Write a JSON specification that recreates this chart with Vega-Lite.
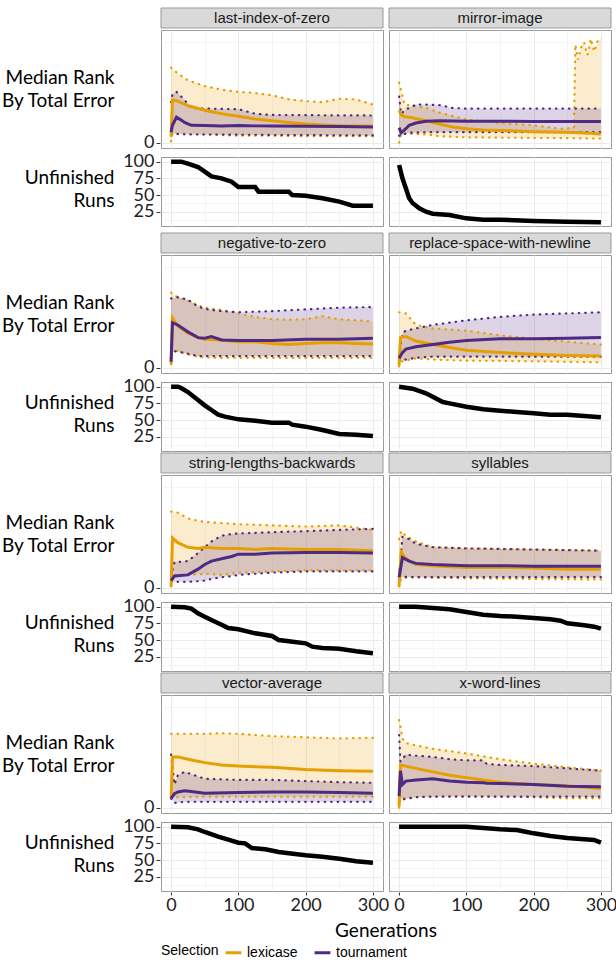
{
  "$schema": "https://vega.github.io/schema/vega-lite/v6.json",
  "padding": {"left": 0, "top": 7, "right": 0, "bottom": 0},
  "background": "white",
  "datasets": {
    "r": [
      {"p":"last-index-of-zero","s":"lexicase","g":0,"m":50,"lo":10,"hi":650},
      {"p":"last-index-of-zero","s":"lexicase","g":2,"m":370,"lo":80,"hi":640},
      {"p":"last-index-of-zero","s":"lexicase","g":10,"m":360,"lo":80,"hi":600},
      {"p":"last-index-of-zero","s":"lexicase","g":25,"m":320,"lo":75,"hi":540},
      {"p":"last-index-of-zero","s":"lexicase","g":50,"m":280,"lo":70,"hi":490},
      {"p":"last-index-of-zero","s":"lexicase","g":75,"m":250,"lo":65,"hi":460},
      {"p":"last-index-of-zero","s":"lexicase","g":100,"m":228,"lo":60,"hi":440},
      {"p":"last-index-of-zero","s":"lexicase","g":125,"m":205,"lo":60,"hi":430},
      {"p":"last-index-of-zero","s":"lexicase","g":150,"m":190,"lo":58,"hi":410},
      {"p":"last-index-of-zero","s":"lexicase","g":175,"m":175,"lo":57,"hi":375},
      {"p":"last-index-of-zero","s":"lexicase","g":200,"m":162,"lo":55,"hi":360},
      {"p":"last-index-of-zero","s":"lexicase","g":225,"m":152,"lo":55,"hi":350},
      {"p":"last-index-of-zero","s":"lexicase","g":250,"m":147,"lo":55,"hi":380},
      {"p":"last-index-of-zero","s":"lexicase","g":275,"m":145,"lo":55,"hi":375},
      {"p":"last-index-of-zero","s":"lexicase","g":300,"m":144,"lo":55,"hi":330},
      {"p":"last-index-of-zero","s":"tournament","g":0,"m":90,"lo":70,"hi":350},
      {"p":"last-index-of-zero","s":"tournament","g":2,"m":150,"lo":75,"hi":420},
      {"p":"last-index-of-zero","s":"tournament","g":8,"m":220,"lo":75,"hi":440},
      {"p":"last-index-of-zero","s":"tournament","g":15,"m":195,"lo":72,"hi":400},
      {"p":"last-index-of-zero","s":"tournament","g":20,"m":175,"lo":72,"hi":370},
      {"p":"last-index-of-zero","s":"tournament","g":30,"m":150,"lo":70,"hi":300},
      {"p":"last-index-of-zero","s":"tournament","g":50,"m":148,"lo":70,"hi":295},
      {"p":"last-index-of-zero","s":"tournament","g":75,"m":145,"lo":70,"hi":292},
      {"p":"last-index-of-zero","s":"tournament","g":100,"m":148,"lo":68,"hi":290},
      {"p":"last-index-of-zero","s":"tournament","g":125,"m":145,"lo":68,"hi":250},
      {"p":"last-index-of-zero","s":"tournament","g":150,"m":145,"lo":66,"hi":240},
      {"p":"last-index-of-zero","s":"tournament","g":200,"m":142,"lo":65,"hi":238},
      {"p":"last-index-of-zero","s":"tournament","g":250,"m":140,"lo":63,"hi":236},
      {"p":"last-index-of-zero","s":"tournament","g":300,"m":135,"lo":62,"hi":235},

      {"p":"mirror-image","s":"lexicase","g":0,"m":280,"lo":0,"hi":520},
      {"p":"mirror-image","s":"lexicase","g":3,"m":240,"lo":80,"hi":450},
      {"p":"mirror-image","s":"lexicase","g":8,"m":225,"lo":80,"hi":330},
      {"p":"mirror-image","s":"lexicase","g":20,"m":215,"lo":75,"hi":320},
      {"p":"mirror-image","s":"lexicase","g":40,"m":190,"lo":70,"hi":300},
      {"p":"mirror-image","s":"lexicase","g":60,"m":160,"lo":55,"hi":260},
      {"p":"mirror-image","s":"lexicase","g":80,"m":135,"lo":50,"hi":230},
      {"p":"mirror-image","s":"lexicase","g":100,"m":120,"lo":45,"hi":200},
      {"p":"mirror-image","s":"lexicase","g":125,"m":110,"lo":45,"hi":185},
      {"p":"mirror-image","s":"lexicase","g":150,"m":105,"lo":42,"hi":170},
      {"p":"mirror-image","s":"lexicase","g":175,"m":100,"lo":42,"hi":160},
      {"p":"mirror-image","s":"lexicase","g":200,"m":95,"lo":40,"hi":150},
      {"p":"mirror-image","s":"lexicase","g":225,"m":92,"lo":40,"hi":130},
      {"p":"mirror-image","s":"lexicase","g":245,"m":90,"lo":38,"hi":120},
      {"p":"mirror-image","s":"lexicase","g":260,"m":88,"lo":38,"hi":130},
      {"p":"mirror-image","s":"lexicase","g":262,"m":88,"lo":38,"hi":850},
      {"p":"mirror-image","s":"lexicase","g":266,"m":86,"lo":37,"hi":720},
      {"p":"mirror-image","s":"lexicase","g":270,"m":85,"lo":37,"hi":820},
      {"p":"mirror-image","s":"lexicase","g":275,"m":84,"lo":36,"hi":870},
      {"p":"mirror-image","s":"lexicase","g":280,"m":82,"lo":36,"hi":760},
      {"p":"mirror-image","s":"lexicase","g":285,"m":80,"lo":36,"hi":900},
      {"p":"mirror-image","s":"lexicase","g":290,"m":78,"lo":35,"hi":790},
      {"p":"mirror-image","s":"lexicase","g":295,"m":77,"lo":35,"hi":880},
      {"p":"mirror-image","s":"lexicase","g":300,"m":75,"lo":35,"hi":910},
      {"p":"mirror-image","s":"tournament","g":0,"m":130,"lo":60,"hi":400},
      {"p":"mirror-image","s":"tournament","g":3,"m":85,"lo":55,"hi":250},
      {"p":"mirror-image","s":"tournament","g":10,"m":120,"lo":80,"hi":290},
      {"p":"mirror-image","s":"tournament","g":15,"m":150,"lo":85,"hi":300},
      {"p":"mirror-image","s":"tournament","g":25,"m":170,"lo":88,"hi":330},
      {"p":"mirror-image","s":"tournament","g":40,"m":185,"lo":90,"hi":330},
      {"p":"mirror-image","s":"tournament","g":60,"m":190,"lo":90,"hi":325},
      {"p":"mirror-image","s":"tournament","g":80,"m":188,"lo":90,"hi":300},
      {"p":"mirror-image","s":"tournament","g":100,"m":186,"lo":90,"hi":295},
      {"p":"mirror-image","s":"tournament","g":150,"m":185,"lo":90,"hi":295},
      {"p":"mirror-image","s":"tournament","g":200,"m":183,"lo":90,"hi":295},
      {"p":"mirror-image","s":"tournament","g":250,"m":182,"lo":90,"hi":295},
      {"p":"mirror-image","s":"tournament","g":300,"m":182,"lo":90,"hi":295},

      {"p":"negative-to-zero","s":"lexicase","g":0,"m":30,"lo":30,"hi":650},
      {"p":"negative-to-zero","s":"lexicase","g":2,"m":430,"lo":160,"hi":640},
      {"p":"negative-to-zero","s":"lexicase","g":10,"m":360,"lo":140,"hi":610},
      {"p":"negative-to-zero","s":"lexicase","g":25,"m":300,"lo":115,"hi":580},
      {"p":"negative-to-zero","s":"lexicase","g":40,"m":260,"lo":95,"hi":540},
      {"p":"negative-to-zero","s":"lexicase","g":50,"m":245,"lo":88,"hi":520},
      {"p":"negative-to-zero","s":"lexicase","g":75,"m":240,"lo":85,"hi":500},
      {"p":"negative-to-zero","s":"lexicase","g":100,"m":225,"lo":85,"hi":470},
      {"p":"negative-to-zero","s":"lexicase","g":125,"m":225,"lo":85,"hi":440},
      {"p":"negative-to-zero","s":"lexicase","g":150,"m":210,"lo":85,"hi":420},
      {"p":"negative-to-zero","s":"lexicase","g":175,"m":200,"lo":85,"hi":415},
      {"p":"negative-to-zero","s":"lexicase","g":200,"m":210,"lo":85,"hi":420},
      {"p":"negative-to-zero","s":"lexicase","g":225,"m":215,"lo":85,"hi":445},
      {"p":"negative-to-zero","s":"lexicase","g":250,"m":215,"lo":85,"hi":420},
      {"p":"negative-to-zero","s":"lexicase","g":275,"m":210,"lo":85,"hi":410},
      {"p":"negative-to-zero","s":"lexicase","g":300,"m":205,"lo":85,"hi":400},
      {"p":"negative-to-zero","s":"tournament","g":0,"m":50,"lo":50,"hi":600},
      {"p":"negative-to-zero","s":"tournament","g":2,"m":390,"lo":140,"hi":600},
      {"p":"negative-to-zero","s":"tournament","g":10,"m":370,"lo":140,"hi":610},
      {"p":"negative-to-zero","s":"tournament","g":25,"m":310,"lo":120,"hi":590},
      {"p":"negative-to-zero","s":"tournament","g":40,"m":260,"lo":100,"hi":530},
      {"p":"negative-to-zero","s":"tournament","g":50,"m":255,"lo":100,"hi":510},
      {"p":"negative-to-zero","s":"tournament","g":60,"m":270,"lo":100,"hi":500},
      {"p":"negative-to-zero","s":"tournament","g":75,"m":240,"lo":100,"hi":490},
      {"p":"negative-to-zero","s":"tournament","g":100,"m":235,"lo":100,"hi":480},
      {"p":"negative-to-zero","s":"tournament","g":150,"m":235,"lo":100,"hi":490},
      {"p":"negative-to-zero","s":"tournament","g":200,"m":245,"lo":100,"hi":505},
      {"p":"negative-to-zero","s":"tournament","g":250,"m":245,"lo":100,"hi":520},
      {"p":"negative-to-zero","s":"tournament","g":300,"m":255,"lo":100,"hi":525},

      {"p":"replace-space-with-newline","s":"lexicase","g":0,"m":20,"lo":10,"hi":480},
      {"p":"replace-space-with-newline","s":"lexicase","g":2,"m":260,"lo":50,"hi":480},
      {"p":"replace-space-with-newline","s":"lexicase","g":10,"m":270,"lo":60,"hi":470},
      {"p":"replace-space-with-newline","s":"lexicase","g":25,"m":230,"lo":80,"hi":370},
      {"p":"replace-space-with-newline","s":"lexicase","g":50,"m":200,"lo":70,"hi":340},
      {"p":"replace-space-with-newline","s":"lexicase","g":75,"m":175,"lo":65,"hi":330},
      {"p":"replace-space-with-newline","s":"lexicase","g":100,"m":150,"lo":60,"hi":320},
      {"p":"replace-space-with-newline","s":"lexicase","g":150,"m":130,"lo":58,"hi":280},
      {"p":"replace-space-with-newline","s":"lexicase","g":200,"m":115,"lo":55,"hi":250},
      {"p":"replace-space-with-newline","s":"lexicase","g":250,"m":105,"lo":50,"hi":225},
      {"p":"replace-space-with-newline","s":"lexicase","g":300,"m":100,"lo":45,"hi":200},
      {"p":"replace-space-with-newline","s":"tournament","g":0,"m":80,"lo":60,"hi":100},
      {"p":"replace-space-with-newline","s":"tournament","g":5,"m":130,"lo":60,"hi":300},
      {"p":"replace-space-with-newline","s":"tournament","g":10,"m":160,"lo":70,"hi":320},
      {"p":"replace-space-with-newline","s":"tournament","g":25,"m":180,"lo":85,"hi":340},
      {"p":"replace-space-with-newline","s":"tournament","g":50,"m":200,"lo":95,"hi":370},
      {"p":"replace-space-with-newline","s":"tournament","g":75,"m":220,"lo":95,"hi":390},
      {"p":"replace-space-with-newline","s":"tournament","g":100,"m":235,"lo":95,"hi":410},
      {"p":"replace-space-with-newline","s":"tournament","g":150,"m":250,"lo":95,"hi":440},
      {"p":"replace-space-with-newline","s":"tournament","g":200,"m":250,"lo":95,"hi":460},
      {"p":"replace-space-with-newline","s":"tournament","g":250,"m":255,"lo":95,"hi":470},
      {"p":"replace-space-with-newline","s":"tournament","g":300,"m":260,"lo":95,"hi":480},

      {"p":"string-lengths-backwards","s":"lexicase","g":0,"m":10,"lo":10,"hi":660},
      {"p":"string-lengths-backwards","s":"lexicase","g":2,"m":430,"lo":100,"hi":660},
      {"p":"string-lengths-backwards","s":"lexicase","g":10,"m":390,"lo":105,"hi":650},
      {"p":"string-lengths-backwards","s":"lexicase","g":25,"m":350,"lo":110,"hi":600},
      {"p":"string-lengths-backwards","s":"lexicase","g":40,"m":340,"lo":115,"hi":580},
      {"p":"string-lengths-backwards","s":"lexicase","g":50,"m":350,"lo":120,"hi":570},
      {"p":"string-lengths-backwards","s":"lexicase","g":75,"m":340,"lo":110,"hi":560},
      {"p":"string-lengths-backwards","s":"lexicase","g":100,"m":340,"lo":130,"hi":550},
      {"p":"string-lengths-backwards","s":"lexicase","g":125,"m":330,"lo":135,"hi":545},
      {"p":"string-lengths-backwards","s":"lexicase","g":150,"m":340,"lo":140,"hi":540},
      {"p":"string-lengths-backwards","s":"lexicase","g":200,"m":330,"lo":150,"hi":530},
      {"p":"string-lengths-backwards","s":"lexicase","g":250,"m":330,"lo":150,"hi":540},
      {"p":"string-lengths-backwards","s":"lexicase","g":300,"m":320,"lo":150,"hi":500},
      {"p":"string-lengths-backwards","s":"tournament","g":0,"m":60,"lo":50,"hi":100},
      {"p":"string-lengths-backwards","s":"tournament","g":5,"m":100,"lo":50,"hi":220},
      {"p":"string-lengths-backwards","s":"tournament","g":25,"m":110,"lo":50,"hi":230},
      {"p":"string-lengths-backwards","s":"tournament","g":40,"m":160,"lo":55,"hi":300},
      {"p":"string-lengths-backwards","s":"tournament","g":50,"m":200,"lo":60,"hi":350},
      {"p":"string-lengths-backwards","s":"tournament","g":60,"m":230,"lo":75,"hi":400},
      {"p":"string-lengths-backwards","s":"tournament","g":75,"m":250,"lo":90,"hi":450},
      {"p":"string-lengths-backwards","s":"tournament","g":90,"m":270,"lo":100,"hi":465},
      {"p":"string-lengths-backwards","s":"tournament","g":100,"m":290,"lo":110,"hi":470},
      {"p":"string-lengths-backwards","s":"tournament","g":125,"m":290,"lo":120,"hi":475},
      {"p":"string-lengths-backwards","s":"tournament","g":150,"m":300,"lo":130,"hi":480},
      {"p":"string-lengths-backwards","s":"tournament","g":200,"m":305,"lo":140,"hi":490},
      {"p":"string-lengths-backwards","s":"tournament","g":250,"m":305,"lo":140,"hi":500},
      {"p":"string-lengths-backwards","s":"tournament","g":300,"m":300,"lo":140,"hi":510},

      {"p":"syllables","s":"lexicase","g":0,"m":10,"lo":10,"hi":420},
      {"p":"syllables","s":"lexicase","g":3,"m":310,"lo":80,"hi":490},
      {"p":"syllables","s":"lexicase","g":10,"m":250,"lo":85,"hi":450},
      {"p":"syllables","s":"lexicase","g":25,"m":200,"lo":90,"hi":400},
      {"p":"syllables","s":"lexicase","g":50,"m":190,"lo":85,"hi":350},
      {"p":"syllables","s":"lexicase","g":100,"m":175,"lo":80,"hi":340},
      {"p":"syllables","s":"lexicase","g":150,"m":175,"lo":78,"hi":335},
      {"p":"syllables","s":"lexicase","g":200,"m":170,"lo":75,"hi":330},
      {"p":"syllables","s":"lexicase","g":250,"m":160,"lo":72,"hi":325},
      {"p":"syllables","s":"lexicase","g":300,"m":160,"lo":70,"hi":320},
      {"p":"syllables","s":"tournament","g":0,"m":90,"lo":90,"hi":100},
      {"p":"syllables","s":"tournament","g":5,"m":260,"lo":95,"hi":440},
      {"p":"syllables","s":"tournament","g":15,"m":230,"lo":92,"hi":420},
      {"p":"syllables","s":"tournament","g":25,"m":210,"lo":90,"hi":380},
      {"p":"syllables","s":"tournament","g":50,"m":200,"lo":90,"hi":350},
      {"p":"syllables","s":"tournament","g":100,"m":190,"lo":90,"hi":340},
      {"p":"syllables","s":"tournament","g":150,"m":190,"lo":90,"hi":335},
      {"p":"syllables","s":"tournament","g":200,"m":185,"lo":90,"hi":330},
      {"p":"syllables","s":"tournament","g":250,"m":185,"lo":90,"hi":325},
      {"p":"syllables","s":"tournament","g":300,"m":185,"lo":90,"hi":320},

      {"p":"vector-average","s":"lexicase","g":0,"m":80,"lo":80,"hi":640},
      {"p":"vector-average","s":"lexicase","g":2,"m":440,"lo":90,"hi":640},
      {"p":"vector-average","s":"lexicase","g":10,"m":440,"lo":90,"hi":640},
      {"p":"vector-average","s":"lexicase","g":25,"m":420,"lo":92,"hi":640},
      {"p":"vector-average","s":"lexicase","g":50,"m":390,"lo":95,"hi":640},
      {"p":"vector-average","s":"lexicase","g":75,"m":370,"lo":95,"hi":645},
      {"p":"vector-average","s":"lexicase","g":100,"m":360,"lo":95,"hi":640},
      {"p":"vector-average","s":"lexicase","g":150,"m":350,"lo":95,"hi":620},
      {"p":"vector-average","s":"lexicase","g":200,"m":330,"lo":95,"hi":610},
      {"p":"vector-average","s":"lexicase","g":250,"m":320,"lo":95,"hi":600},
      {"p":"vector-average","s":"lexicase","g":300,"m":315,"lo":95,"hi":605},
      {"p":"vector-average","s":"tournament","g":0,"m":80,"lo":80,"hi":460},
      {"p":"vector-average","s":"tournament","g":5,"m":120,"lo":40,"hi":200},
      {"p":"vector-average","s":"tournament","g":10,"m":135,"lo":45,"hi":280},
      {"p":"vector-average","s":"tournament","g":20,"m":145,"lo":50,"hi":310},
      {"p":"vector-average","s":"tournament","g":30,"m":140,"lo":50,"hi":290},
      {"p":"vector-average","s":"tournament","g":50,"m":125,"lo":50,"hi":250},
      {"p":"vector-average","s":"tournament","g":100,"m":130,"lo":50,"hi":240},
      {"p":"vector-average","s":"tournament","g":150,"m":135,"lo":50,"hi":240},
      {"p":"vector-average","s":"tournament","g":200,"m":135,"lo":50,"hi":230},
      {"p":"vector-average","s":"tournament","g":250,"m":130,"lo":50,"hi":220},
      {"p":"vector-average","s":"tournament","g":300,"m":125,"lo":50,"hi":215},

      {"p":"x-word-lines","s":"lexicase","g":0,"m":10,"lo":0,"hi":760},
      {"p":"x-word-lines","s":"lexicase","g":2,"m":370,"lo":80,"hi":700},
      {"p":"x-word-lines","s":"lexicase","g":5,"m":365,"lo":80,"hi":600},
      {"p":"x-word-lines","s":"lexicase","g":10,"m":360,"lo":85,"hi":560},
      {"p":"x-word-lines","s":"lexicase","g":25,"m":340,"lo":90,"hi":540},
      {"p":"x-word-lines","s":"lexicase","g":50,"m":310,"lo":95,"hi":510},
      {"p":"x-word-lines","s":"lexicase","g":75,"m":280,"lo":98,"hi":490},
      {"p":"x-word-lines","s":"lexicase","g":100,"m":260,"lo":100,"hi":470},
      {"p":"x-word-lines","s":"lexicase","g":125,"m":240,"lo":98,"hi":445},
      {"p":"x-word-lines","s":"lexicase","g":150,"m":220,"lo":95,"hi":420},
      {"p":"x-word-lines","s":"lexicase","g":175,"m":210,"lo":92,"hi":400},
      {"p":"x-word-lines","s":"lexicase","g":200,"m":200,"lo":90,"hi":380},
      {"p":"x-word-lines","s":"lexicase","g":250,"m":190,"lo":80,"hi":350},
      {"p":"x-word-lines","s":"lexicase","g":300,"m":165,"lo":80,"hi":320},
      {"p":"x-word-lines","s":"tournament","g":0,"m":100,"lo":100,"hi":630},
      {"p":"x-word-lines","s":"tournament","g":2,"m":320,"lo":80,"hi":400},
      {"p":"x-word-lines","s":"tournament","g":5,"m":200,"lo":70,"hi":420},
      {"p":"x-word-lines","s":"tournament","g":10,"m":230,"lo":75,"hi":460},
      {"p":"x-word-lines","s":"tournament","g":25,"m":240,"lo":90,"hi":450},
      {"p":"x-word-lines","s":"tournament","g":50,"m":250,"lo":95,"hi":440},
      {"p":"x-word-lines","s":"tournament","g":75,"m":230,"lo":95,"hi":420},
      {"p":"x-word-lines","s":"tournament","g":100,"m":220,"lo":95,"hi":410},
      {"p":"x-word-lines","s":"tournament","g":125,"m":215,"lo":95,"hi":410},
      {"p":"x-word-lines","s":"tournament","g":130,"m":212,"lo":95,"hi":380},
      {"p":"x-word-lines","s":"tournament","g":150,"m":210,"lo":95,"hi":370},
      {"p":"x-word-lines","s":"tournament","g":200,"m":200,"lo":95,"hi":360},
      {"p":"x-word-lines","s":"tournament","g":250,"m":185,"lo":95,"hi":340},
      {"p":"x-word-lines","s":"tournament","g":300,"m":180,"lo":95,"hi":320}
    ],
    "u": [
      {"p":"last-index-of-zero","g":0,"n":100},{"p":"last-index-of-zero","g":15,"n":100},{"p":"last-index-of-zero","g":25,"n":97},{"p":"last-index-of-zero","g":40,"n":92},{"p":"last-index-of-zero","g":50,"n":85},{"p":"last-index-of-zero","g":60,"n":78},{"p":"last-index-of-zero","g":75,"n":75},{"p":"last-index-of-zero","g":90,"n":70},{"p":"last-index-of-zero","g":100,"n":62},{"p":"last-index-of-zero","g":125,"n":62},{"p":"last-index-of-zero","g":130,"n":55},{"p":"last-index-of-zero","g":175,"n":55},{"p":"last-index-of-zero","g":180,"n":50},{"p":"last-index-of-zero","g":200,"n":49},{"p":"last-index-of-zero","g":225,"n":45},{"p":"last-index-of-zero","g":250,"n":40},{"p":"last-index-of-zero","g":270,"n":34},{"p":"last-index-of-zero","g":300,"n":34},
      {"p":"mirror-image","g":0,"n":95},{"p":"mirror-image","g":5,"n":75},{"p":"mirror-image","g":10,"n":60},{"p":"mirror-image","g":15,"n":45},{"p":"mirror-image","g":20,"n":38},{"p":"mirror-image","g":30,"n":30},{"p":"mirror-image","g":40,"n":25},{"p":"mirror-image","g":50,"n":22},{"p":"mirror-image","g":75,"n":20},{"p":"mirror-image","g":100,"n":15},{"p":"mirror-image","g":125,"n":13},{"p":"mirror-image","g":150,"n":13},{"p":"mirror-image","g":200,"n":11},{"p":"mirror-image","g":250,"n":10},{"p":"mirror-image","g":300,"n":9},
      {"p":"negative-to-zero","g":0,"n":100},{"p":"negative-to-zero","g":10,"n":100},{"p":"negative-to-zero","g":15,"n":98},{"p":"negative-to-zero","g":25,"n":92},{"p":"negative-to-zero","g":40,"n":80},{"p":"negative-to-zero","g":50,"n":72},{"p":"negative-to-zero","g":60,"n":65},{"p":"negative-to-zero","g":70,"n":58},{"p":"negative-to-zero","g":80,"n":55},{"p":"negative-to-zero","g":100,"n":51},{"p":"negative-to-zero","g":125,"n":49},{"p":"negative-to-zero","g":150,"n":46},{"p":"negative-to-zero","g":175,"n":46},{"p":"negative-to-zero","g":180,"n":43},{"p":"negative-to-zero","g":200,"n":40},{"p":"negative-to-zero","g":225,"n":35},{"p":"negative-to-zero","g":250,"n":29},{"p":"negative-to-zero","g":275,"n":28},{"p":"negative-to-zero","g":300,"n":26},
      {"p":"replace-space-with-newline","g":0,"n":100},{"p":"replace-space-with-newline","g":20,"n":97},{"p":"replace-space-with-newline","g":40,"n":90},{"p":"replace-space-with-newline","g":50,"n":85},{"p":"replace-space-with-newline","g":65,"n":77},{"p":"replace-space-with-newline","g":75,"n":75},{"p":"replace-space-with-newline","g":100,"n":70},{"p":"replace-space-with-newline","g":125,"n":66},{"p":"replace-space-with-newline","g":150,"n":64},{"p":"replace-space-with-newline","g":175,"n":62},{"p":"replace-space-with-newline","g":200,"n":60},{"p":"replace-space-with-newline","g":225,"n":58},{"p":"replace-space-with-newline","g":250,"n":58},{"p":"replace-space-with-newline","g":275,"n":56},{"p":"replace-space-with-newline","g":300,"n":54},
      {"p":"string-lengths-backwards","g":0,"n":100},{"p":"string-lengths-backwards","g":20,"n":99},{"p":"string-lengths-backwards","g":30,"n":97},{"p":"string-lengths-backwards","g":40,"n":90},{"p":"string-lengths-backwards","g":50,"n":85},{"p":"string-lengths-backwards","g":60,"n":80},{"p":"string-lengths-backwards","g":75,"n":73},{"p":"string-lengths-backwards","g":85,"n":68},{"p":"string-lengths-backwards","g":100,"n":66},{"p":"string-lengths-backwards","g":125,"n":60},{"p":"string-lengths-backwards","g":150,"n":56},{"p":"string-lengths-backwards","g":160,"n":50},{"p":"string-lengths-backwards","g":175,"n":48},{"p":"string-lengths-backwards","g":200,"n":45},{"p":"string-lengths-backwards","g":210,"n":40},{"p":"string-lengths-backwards","g":225,"n":38},{"p":"string-lengths-backwards","g":250,"n":37},{"p":"string-lengths-backwards","g":275,"n":33},{"p":"string-lengths-backwards","g":300,"n":30},
      {"p":"syllables","g":0,"n":100},{"p":"syllables","g":25,"n":100},{"p":"syllables","g":50,"n":98},{"p":"syllables","g":75,"n":96},{"p":"syllables","g":100,"n":92},{"p":"syllables","g":125,"n":88},{"p":"syllables","g":150,"n":86},{"p":"syllables","g":175,"n":85},{"p":"syllables","g":200,"n":83},{"p":"syllables","g":225,"n":81},{"p":"syllables","g":240,"n":79},{"p":"syllables","g":250,"n":75},{"p":"syllables","g":275,"n":72},{"p":"syllables","g":290,"n":70},{"p":"syllables","g":300,"n":67},
      {"p":"vector-average","g":0,"n":100},{"p":"vector-average","g":25,"n":99},{"p":"vector-average","g":40,"n":96},{"p":"vector-average","g":50,"n":92},{"p":"vector-average","g":70,"n":85},{"p":"vector-average","g":90,"n":79},{"p":"vector-average","g":100,"n":76},{"p":"vector-average","g":110,"n":75},{"p":"vector-average","g":120,"n":68},{"p":"vector-average","g":140,"n":66},{"p":"vector-average","g":160,"n":62},{"p":"vector-average","g":175,"n":60},{"p":"vector-average","g":200,"n":57},{"p":"vector-average","g":225,"n":55},{"p":"vector-average","g":250,"n":52},{"p":"vector-average","g":275,"n":48},{"p":"vector-average","g":300,"n":46},
      {"p":"x-word-lines","g":0,"n":100},{"p":"x-word-lines","g":100,"n":100},{"p":"x-word-lines","g":125,"n":98},{"p":"x-word-lines","g":150,"n":96},{"p":"x-word-lines","g":175,"n":95},{"p":"x-word-lines","g":190,"n":92},{"p":"x-word-lines","g":200,"n":90},{"p":"x-word-lines","g":225,"n":86},{"p":"x-word-lines","g":250,"n":83},{"p":"x-word-lines","g":275,"n":81},{"p":"x-word-lines","g":290,"n":80},{"p":"x-word-lines","g":300,"n":76}
    ]
  },
  "resolve": {"scale": {"color": "shared"}, "legend": {"color": "shared"}},
  "spacing": 0,
  "vconcat": [
    {
      "spacing": 0,
      "resolve": {"scale": {"color": "shared"}, "legend": {"color": "shared"}},
      "vconcat": [
        {
          "data": {"name": "u"},
          "transform": [{"filter": {"field": "p", "oneOf": ["last-index-of-zero", "mirror-image"]}}, {"aggregate": [{"op": "count", "as": "c"}], "groupby": ["p"]}],
          "facet": {"column": {"field": "p", "title": null, "header": {"labels": false, "title": null}}},
          "spacing": 4,
          "spec": {"width": 222, "height": 20, "layer": [
            {"mark": {"type": "rect", "fill": "#d9d9d9", "stroke": "#999999"}, "encoding": {}},
            {"mark": {"type": "text", "fontSize": 15, "font": "Liberation Sans", "color": "#1a1a1a"}, "encoding": {"text": {"field": "p"}}}
          ]}
        },
        {
          "spacing": 0,
          "resolve": {"scale": {"color": "shared"}, "legend": {"color": "shared"}},
          "vconcat": [
            {
              "data": {"name": "r"},
              "transform": [{"filter": {"field": "p", "oneOf": ["last-index-of-zero", "mirror-image"]}}],
              "facet": {"column": {"field": "p", "title": null, "header": {"labels": false, "title": null}}},
              "spacing": 4,
              "spec": {
                "width": 222, "height": 118,
                "encoding": {
                  "x": {"field": "g", "type": "quantitative", "scale": {"domain": [-15, 315], "nice": false, "zero": false}, "axis": {"values": [0,50,100,150,200,250,300], "labels": false, "ticks": false, "domain": false, "title": null, "minExtent": 0, "maxExtent": 0, "offset": 0, "gridWidth": {"condition": {"test": "datum.value % 100 !== 0", "value": 0.5}, "value": 1}}},
                  "color": {"field": "s", "type": "nominal", "title": "Selection", "scale": {"domain": ["lexicase", "tournament"], "range": ["#E69F00", "#4E2A84"]}}
                },
                "layer": [
                  {"mark": {"type": "area", "fillOpacity": 0.2}, "encoding": {"y": {"field": "lo", "type": "quantitative", "scale": {"domain": [-47, 977], "nice": false, "zero": false}, "axis": {"values": [0,125,250,375,500,625,750,875], "labelExpr": "datum.value % 250 === 0 ? datum.label : ''", "labelFontSize": {"condition": {"test": "datum.value % 250 !== 0", "value": 0}, "value": 18}, "labelOverlap": false, "labelFlush": false, "title": ["Median Rank", "By Total Error"], "titleAngle": 0, "titleAlign": "right", "titleBaseline": "middle", "titleX": -46, "titleY": 47, "titleLineHeight": 23, "tickOpacity": {"condition": {"test": "datum.value % 250 !== 0", "value": 0}, "value": 1}, "gridWidth": {"condition": {"test": "datum.value % 250 !== 0", "value": 0.5}, "value": 1}}}, "y2": {"field": "hi"}}},
                  {"mark": {"type": "line", "strokeWidth": 2.2, "strokeDash": [0.5, 6], "strokeCap": "round"}, "encoding": {"y": {"field": "lo", "type": "quantitative"}}},
                  {"mark": {"type": "line", "strokeWidth": 2.2, "strokeDash": [0.5, 6], "strokeCap": "round"}, "encoding": {"y": {"field": "hi", "type": "quantitative"}}},
                  {"transform": [{"aggregate": [{"op": "count", "as": "c"}], "groupby": ["p"]}], "mark": {"type": "rule", "strokeWidth": 1}, "encoding": {"y": {"datum": 95}, "color": {"value": "#ff3b3b"}}},
                  {"mark": {"type": "line", "strokeWidth": 3}, "encoding": {"y": {"field": "m", "type": "quantitative"}}}
                ]
              }
            },
            {
              "data": {"name": "u"},
              "transform": [{"filter": {"field": "p", "oneOf": ["last-index-of-zero", "mirror-image"]}}],
              "facet": {"column": {"field": "p", "title": null, "header": {"labels": false, "title": null}}},
              "spacing": 4,
              "spec": {
                "width": 222, "height": 69,
                "mark": {"type": "line", "color": "#000000", "strokeWidth": 4.5},
                "encoding": {
                  "x": {"field": "g", "type": "quantitative", "scale": {"domain": [-15, 315], "nice": false, "zero": false}, "axis": {"values": [0,50,100,150,200,250,300], "labels": false, "ticks": false, "domain": false, "title": null, "minExtent": 0, "maxExtent": 0, "offset": 0, "gridWidth": {"condition": {"test": "datum.value % 100 !== 0", "value": 0.5}, "value": 1}}},
                  "y": {"field": "n", "type": "quantitative", "scale": {"domain": [3.5, 107], "nice": false, "zero": false}, "axis": {"values": [12.5,25,37.5,50,62.5,75,87.5,100], "labelExpr": "datum.value % 25 === 0 ? datum.label : ''", "labelFontSize": {"condition": {"test": "datum.value % 25 !== 0", "value": 0}, "value": 18}, "labelOverlap": false, "labelFlush": false, "title": ["Unfinished", "Runs"], "titleAngle": 0, "titleAlign": "right", "titleBaseline": "middle", "titleX": -46, "titleY": 20, "titleLineHeight": 23, "tickOpacity": {"condition": {"test": "datum.value % 25 !== 0", "value": 0}, "value": 1}, "gridWidth": {"condition": {"test": "datum.value % 25 !== 0", "value": 0.5}, "value": 1}}}
                }
              }
            }
          ]
        }
      ]
    },
    {
      "spacing": 0,
      "resolve": {"scale": {"color": "shared"}, "legend": {"color": "shared"}},
      "vconcat": [
        {
          "data": {"name": "u"},
          "transform": [{"filter": {"field": "p", "oneOf": ["negative-to-zero", "replace-space-with-newline"]}}, {"aggregate": [{"op": "count", "as": "c"}], "groupby": ["p"]}],
          "facet": {"column": {"field": "p", "title": null, "header": {"labels": false, "title": null}}},
          "spacing": 4,
          "spec": {"width": 222, "height": 20, "layer": [
            {"mark": {"type": "rect", "fill": "#d9d9d9", "stroke": "#999999"}, "encoding": {}},
            {"mark": {"type": "text", "fontSize": 15, "font": "Liberation Sans", "color": "#1a1a1a"}, "encoding": {"text": {"field": "p"}}}
          ]}
        },
        {
          "spacing": 0,
          "resolve": {"scale": {"color": "shared"}, "legend": {"color": "shared"}},
          "vconcat": [
            {
              "data": {"name": "r"},
              "transform": [{"filter": {"field": "p", "oneOf": ["negative-to-zero", "replace-space-with-newline"]}}],
              "facet": {"column": {"field": "p", "title": null, "header": {"labels": false, "title": null}}},
              "spacing": 4,
              "spec": {
                "width": 222, "height": 118,
                "encoding": {
                  "x": {"field": "g", "type": "quantitative", "scale": {"domain": [-15, 315], "nice": false, "zero": false}, "axis": {"values": [0,50,100,150,200,250,300], "labels": false, "ticks": false, "domain": false, "title": null, "minExtent": 0, "maxExtent": 0, "offset": 0, "gridWidth": {"condition": {"test": "datum.value % 100 !== 0", "value": 0.5}, "value": 1}}},
                  "color": {"field": "s", "type": "nominal", "title": "Selection", "scale": {"domain": ["lexicase", "tournament"], "range": ["#E69F00", "#4E2A84"]}}
                },
                "layer": [
                  {"mark": {"type": "area", "fillOpacity": 0.2}, "encoding": {"y": {"field": "lo", "type": "quantitative", "scale": {"domain": [-47, 977], "nice": false, "zero": false}, "axis": {"values": [0,125,250,375,500,625,750,875], "labelExpr": "datum.value % 250 === 0 ? datum.label : ''", "labelFontSize": {"condition": {"test": "datum.value % 250 !== 0", "value": 0}, "value": 18}, "labelOverlap": false, "labelFlush": false, "title": ["Median Rank", "By Total Error"], "titleAngle": 0, "titleAlign": "right", "titleBaseline": "middle", "titleX": -46, "titleY": 47, "titleLineHeight": 23, "tickOpacity": {"condition": {"test": "datum.value % 250 !== 0", "value": 0}, "value": 1}, "gridWidth": {"condition": {"test": "datum.value % 250 !== 0", "value": 0.5}, "value": 1}}}, "y2": {"field": "hi"}}},
                  {"mark": {"type": "line", "strokeWidth": 2.2, "strokeDash": [0.5, 6], "strokeCap": "round"}, "encoding": {"y": {"field": "lo", "type": "quantitative"}}},
                  {"mark": {"type": "line", "strokeWidth": 2.2, "strokeDash": [0.5, 6], "strokeCap": "round"}, "encoding": {"y": {"field": "hi", "type": "quantitative"}}},
                  {"transform": [{"aggregate": [{"op": "count", "as": "c"}], "groupby": ["p"]}], "mark": {"type": "rule", "strokeWidth": 1}, "encoding": {"y": {"datum": 95}, "color": {"value": "#ff3b3b"}}},
                  {"mark": {"type": "line", "strokeWidth": 3}, "encoding": {"y": {"field": "m", "type": "quantitative"}}}
                ]
              }
            },
            {
              "data": {"name": "u"},
              "transform": [{"filter": {"field": "p", "oneOf": ["negative-to-zero", "replace-space-with-newline"]}}],
              "facet": {"column": {"field": "p", "title": null, "header": {"labels": false, "title": null}}},
              "spacing": 4,
              "spec": {
                "width": 222, "height": 69,
                "mark": {"type": "line", "color": "#000000", "strokeWidth": 4.5},
                "encoding": {
                  "x": {"field": "g", "type": "quantitative", "scale": {"domain": [-15, 315], "nice": false, "zero": false}, "axis": {"values": [0,50,100,150,200,250,300], "labels": false, "ticks": false, "domain": false, "title": null, "minExtent": 0, "maxExtent": 0, "offset": 0, "gridWidth": {"condition": {"test": "datum.value % 100 !== 0", "value": 0.5}, "value": 1}}},
                  "y": {"field": "n", "type": "quantitative", "scale": {"domain": [3.5, 107], "nice": false, "zero": false}, "axis": {"values": [12.5,25,37.5,50,62.5,75,87.5,100], "labelExpr": "datum.value % 25 === 0 ? datum.label : ''", "labelFontSize": {"condition": {"test": "datum.value % 25 !== 0", "value": 0}, "value": 18}, "labelOverlap": false, "labelFlush": false, "title": ["Unfinished", "Runs"], "titleAngle": 0, "titleAlign": "right", "titleBaseline": "middle", "titleX": -46, "titleY": 20, "titleLineHeight": 23, "tickOpacity": {"condition": {"test": "datum.value % 25 !== 0", "value": 0}, "value": 1}, "gridWidth": {"condition": {"test": "datum.value % 25 !== 0", "value": 0.5}, "value": 1}}}
                }
              }
            }
          ]
        }
      ]
    },
    {
      "spacing": 0,
      "resolve": {"scale": {"color": "shared"}, "legend": {"color": "shared"}},
      "vconcat": [
        {
          "data": {"name": "u"},
          "transform": [{"filter": {"field": "p", "oneOf": ["string-lengths-backwards", "syllables"]}}, {"aggregate": [{"op": "count", "as": "c"}], "groupby": ["p"]}],
          "facet": {"column": {"field": "p", "title": null, "header": {"labels": false, "title": null}}},
          "spacing": 4,
          "spec": {"width": 222, "height": 20, "layer": [
            {"mark": {"type": "rect", "fill": "#d9d9d9", "stroke": "#999999"}, "encoding": {}},
            {"mark": {"type": "text", "fontSize": 15, "font": "Liberation Sans", "color": "#1a1a1a"}, "encoding": {"text": {"field": "p"}}}
          ]}
        },
        {
          "spacing": 0,
          "resolve": {"scale": {"color": "shared"}, "legend": {"color": "shared"}},
          "vconcat": [
            {
              "data": {"name": "r"},
              "transform": [{"filter": {"field": "p", "oneOf": ["string-lengths-backwards", "syllables"]}}],
              "facet": {"column": {"field": "p", "title": null, "header": {"labels": false, "title": null}}},
              "spacing": 4,
              "spec": {
                "width": 222, "height": 118,
                "encoding": {
                  "x": {"field": "g", "type": "quantitative", "scale": {"domain": [-15, 315], "nice": false, "zero": false}, "axis": {"values": [0,50,100,150,200,250,300], "labels": false, "ticks": false, "domain": false, "title": null, "minExtent": 0, "maxExtent": 0, "offset": 0, "gridWidth": {"condition": {"test": "datum.value % 100 !== 0", "value": 0.5}, "value": 1}}},
                  "color": {"field": "s", "type": "nominal", "title": "Selection", "scale": {"domain": ["lexicase", "tournament"], "range": ["#E69F00", "#4E2A84"]}}
                },
                "layer": [
                  {"mark": {"type": "area", "fillOpacity": 0.2}, "encoding": {"y": {"field": "lo", "type": "quantitative", "scale": {"domain": [-47, 977], "nice": false, "zero": false}, "axis": {"values": [0,125,250,375,500,625,750,875], "labelExpr": "datum.value % 250 === 0 ? datum.label : ''", "labelFontSize": {"condition": {"test": "datum.value % 250 !== 0", "value": 0}, "value": 18}, "labelOverlap": false, "labelFlush": false, "title": ["Median Rank", "By Total Error"], "titleAngle": 0, "titleAlign": "right", "titleBaseline": "middle", "titleX": -46, "titleY": 47, "titleLineHeight": 23, "tickOpacity": {"condition": {"test": "datum.value % 250 !== 0", "value": 0}, "value": 1}, "gridWidth": {"condition": {"test": "datum.value % 250 !== 0", "value": 0.5}, "value": 1}}}, "y2": {"field": "hi"}}},
                  {"mark": {"type": "line", "strokeWidth": 2.2, "strokeDash": [0.5, 6], "strokeCap": "round"}, "encoding": {"y": {"field": "lo", "type": "quantitative"}}},
                  {"mark": {"type": "line", "strokeWidth": 2.2, "strokeDash": [0.5, 6], "strokeCap": "round"}, "encoding": {"y": {"field": "hi", "type": "quantitative"}}},
                  {"transform": [{"aggregate": [{"op": "count", "as": "c"}], "groupby": ["p"]}], "mark": {"type": "rule", "strokeWidth": 1}, "encoding": {"y": {"datum": 95}, "color": {"value": "#ff3b3b"}}},
                  {"mark": {"type": "line", "strokeWidth": 3}, "encoding": {"y": {"field": "m", "type": "quantitative"}}}
                ]
              }
            },
            {
              "data": {"name": "u"},
              "transform": [{"filter": {"field": "p", "oneOf": ["string-lengths-backwards", "syllables"]}}],
              "facet": {"column": {"field": "p", "title": null, "header": {"labels": false, "title": null}}},
              "spacing": 4,
              "spec": {
                "width": 222, "height": 69,
                "mark": {"type": "line", "color": "#000000", "strokeWidth": 4.5},
                "encoding": {
                  "x": {"field": "g", "type": "quantitative", "scale": {"domain": [-15, 315], "nice": false, "zero": false}, "axis": {"values": [0,50,100,150,200,250,300], "labels": false, "ticks": false, "domain": false, "title": null, "minExtent": 0, "maxExtent": 0, "offset": 0, "gridWidth": {"condition": {"test": "datum.value % 100 !== 0", "value": 0.5}, "value": 1}}},
                  "y": {"field": "n", "type": "quantitative", "scale": {"domain": [3.5, 107], "nice": false, "zero": false}, "axis": {"values": [12.5,25,37.5,50,62.5,75,87.5,100], "labelExpr": "datum.value % 25 === 0 ? datum.label : ''", "labelFontSize": {"condition": {"test": "datum.value % 25 !== 0", "value": 0}, "value": 18}, "labelOverlap": false, "labelFlush": false, "title": ["Unfinished", "Runs"], "titleAngle": 0, "titleAlign": "right", "titleBaseline": "middle", "titleX": -46, "titleY": 20, "titleLineHeight": 23, "tickOpacity": {"condition": {"test": "datum.value % 25 !== 0", "value": 0}, "value": 1}, "gridWidth": {"condition": {"test": "datum.value % 25 !== 0", "value": 0.5}, "value": 1}}}
                }
              }
            }
          ]
        }
      ]
    },
    {
      "spacing": 0,
      "resolve": {"scale": {"color": "shared"}, "legend": {"color": "shared"}},
      "vconcat": [
        {
          "data": {"name": "u"},
          "transform": [{"filter": {"field": "p", "oneOf": ["vector-average", "x-word-lines"]}}, {"aggregate": [{"op": "count", "as": "c"}], "groupby": ["p"]}],
          "facet": {"column": {"field": "p", "title": null, "header": {"labels": false, "title": null}}},
          "spacing": 4,
          "spec": {"width": 222, "height": 20, "layer": [
            {"mark": {"type": "rect", "fill": "#d9d9d9", "stroke": "#999999"}, "encoding": {}},
            {"mark": {"type": "text", "fontSize": 15, "font": "Liberation Sans", "color": "#1a1a1a"}, "encoding": {"text": {"field": "p"}}}
          ]}
        },
        {
          "spacing": 0,
          "resolve": {"scale": {"color": "shared"}, "legend": {"color": "shared"}},
          "vconcat": [
            {
              "data": {"name": "r"},
              "transform": [{"filter": {"field": "p", "oneOf": ["vector-average", "x-word-lines"]}}],
              "facet": {"column": {"field": "p", "title": null, "header": {"labels": false, "title": null}}},
              "spacing": 4,
              "spec": {
                "width": 222, "height": 118,
                "encoding": {
                  "x": {"field": "g", "type": "quantitative", "scale": {"domain": [-15, 315], "nice": false, "zero": false}, "axis": {"values": [0,50,100,150,200,250,300], "labels": false, "ticks": false, "domain": false, "title": null, "minExtent": 0, "maxExtent": 0, "offset": 0, "gridWidth": {"condition": {"test": "datum.value % 100 !== 0", "value": 0.5}, "value": 1}}},
                  "color": {"field": "s", "type": "nominal", "title": "Selection", "scale": {"domain": ["lexicase", "tournament"], "range": ["#E69F00", "#4E2A84"]}}
                },
                "layer": [
                  {"mark": {"type": "area", "fillOpacity": 0.2}, "encoding": {"y": {"field": "lo", "type": "quantitative", "scale": {"domain": [-47, 977], "nice": false, "zero": false}, "axis": {"values": [0,125,250,375,500,625,750,875], "labelExpr": "datum.value % 250 === 0 ? datum.label : ''", "labelFontSize": {"condition": {"test": "datum.value % 250 !== 0", "value": 0}, "value": 18}, "labelOverlap": false, "labelFlush": false, "title": ["Median Rank", "By Total Error"], "titleAngle": 0, "titleAlign": "right", "titleBaseline": "middle", "titleX": -46, "titleY": 47, "titleLineHeight": 23, "tickOpacity": {"condition": {"test": "datum.value % 250 !== 0", "value": 0}, "value": 1}, "gridWidth": {"condition": {"test": "datum.value % 250 !== 0", "value": 0.5}, "value": 1}}}, "y2": {"field": "hi"}}},
                  {"mark": {"type": "line", "strokeWidth": 2.2, "strokeDash": [0.5, 6], "strokeCap": "round"}, "encoding": {"y": {"field": "lo", "type": "quantitative"}}},
                  {"mark": {"type": "line", "strokeWidth": 2.2, "strokeDash": [0.5, 6], "strokeCap": "round"}, "encoding": {"y": {"field": "hi", "type": "quantitative"}}},
                  {"transform": [{"aggregate": [{"op": "count", "as": "c"}], "groupby": ["p"]}], "mark": {"type": "rule", "strokeWidth": 1}, "encoding": {"y": {"datum": 95}, "color": {"value": "#ff3b3b"}}},
                  {"mark": {"type": "line", "strokeWidth": 3}, "encoding": {"y": {"field": "m", "type": "quantitative"}}}
                ]
              }
            },
            {
              "data": {"name": "u"},
              "transform": [{"filter": {"field": "p", "oneOf": ["vector-average", "x-word-lines"]}}],
              "facet": {"column": {"field": "p", "title": "Generations", "header": {"labels": false, "titleOrient": "bottom", "titleFontSize": 19, "titleFontWeight": "normal", "titleFont": "Lato", "titleColor": "#000000", "titlePadding": -2}}},
              "spacing": 4,
              "spec": {
                "width": 222, "height": 69,
                "mark": {"type": "line", "color": "#000000", "strokeWidth": 4.5},
                "encoding": {
                  "x": {"field": "g", "type": "quantitative", "scale": {"domain": [-15, 315], "nice": false, "zero": false}, "axis": {"values": [0,50,100,150,200,250,300], "labelExpr": "datum.value % 100 === 0 ? datum.label : ''", "labelFontSize": {"condition": {"test": "datum.value % 100 !== 0", "value": 0}, "value": 18}, "labelOverlap": false, "labelFlush": false, "labelPadding": 1, "tickSize": 3, "domain": false, "title": null, "tickOpacity": {"condition": {"test": "datum.value % 100 !== 0", "value": 0}, "value": 1}, "gridWidth": {"condition": {"test": "datum.value % 100 !== 0", "value": 0.5}, "value": 1}}},
                  "y": {"field": "n", "type": "quantitative", "scale": {"domain": [3.5, 107], "nice": false, "zero": false}, "axis": {"values": [12.5,25,37.5,50,62.5,75,87.5,100], "labelExpr": "datum.value % 25 === 0 ? datum.label : ''", "labelFontSize": {"condition": {"test": "datum.value % 25 !== 0", "value": 0}, "value": 18}, "labelOverlap": false, "labelFlush": false, "title": ["Unfinished", "Runs"], "titleAngle": 0, "titleAlign": "right", "titleBaseline": "middle", "titleX": -46, "titleY": 20, "titleLineHeight": 23, "tickOpacity": {"condition": {"test": "datum.value % 25 !== 0", "value": 0}, "value": 1}, "gridWidth": {"condition": {"test": "datum.value % 25 !== 0", "value": 0.5}, "value": 1}}}
                }
              }
            }
          ]
        }
      ]
    }
  ],
  "config": {
    "view": {"stroke": "#999999", "strokeWidth": 1},
    "axis": {"gridColor": "#ebebeb", "labelColor": "#222222", "labelFont": "Lato", "labelFontSize": 18, "labelPadding": 2, "tickColor": "#333333", "tickSize": 4, "domain": false, "titleFont": "Lato", "titleFontSize": 19, "titleFontWeight": "normal", "titleColor": "#000000"},
    "legend": {"orient": "bottom", "direction": "horizontal", "titleOrient": "left", "titleFont": "Liberation Sans", "titleFontSize": 14, "titleFontWeight": "normal", "titleColor": "#000000", "labelFont": "Liberation Sans", "labelFontSize": 14, "labelColor": "#000000", "symbolType": "stroke", "symbolStrokeWidth": 3, "symbolSize": 250, "offset": 2}
  }
}
